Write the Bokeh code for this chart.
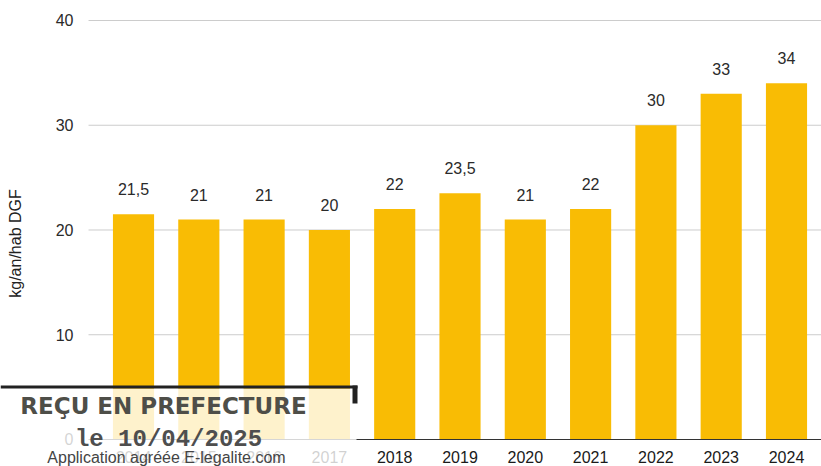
from bokeh.plotting import figure
from bokeh.models import ColumnDataSource, Range1d, FixedTicker, Label, BoxAnnotation, LinearAxis
from bokeh.core.properties import value
from bokeh.embed import file_html
from bokeh.resources import INLINE

years = ["2014", "2015", "2016", "2017", "2018", "2019", "2020", "2021", "2022", "2023", "2024"]
values = [21.5, 21, 21, 20, 22, 23.5, 21, 22, 30, 33, 34]
value_labels = ["21,5", "21", "21", "20", "22", "23,5", "21", "22", "30", "33", "34"]
y_ticks = [0, 10, 20, 30, 40]

idx = list(range(len(years)))
src = ColumnDataSource(dict(x=idx, top=values, lbl=value_labels))

# plotting area (in data units) and the outer canvas range
X0, X1 = -0.689, 10.536
Y0, Y1 = 0, 40

FONT = "Liberation Sans"
p = figure(width=821, height=466, output_backend="svg", toolbar_location=None,
           x_range=Range1d(-2.037, X1), y_range=Range1d(-2.578, 41.909),
           x_axis_location=None, y_axis_location=None,
           min_border_left=0, min_border_right=0, min_border_top=0, min_border_bottom=0)
p.outline_line_color = None
p.background_fill_color = "white"
for g in p.grid:
    g.grid_line_color = None

# horizontal gridlines across the plotting area
p.segment(x0=[X0] * len(y_ticks), x1=[X1] * len(y_ticks), y0=y_ticks, y1=y_ticks,
          line_color="#cccccc", line_width=1, level="underlay")

p.vbar(x="x", top="top", bottom=0, width=0.63, source=src, fill_color="#F9BC04", line_color=None)
p.text(x="x", y="top", text="lbl", source=src, text_align="center", text_baseline="bottom",
       y_offset=-19, text_font_size="16px", text_color="#2a2a2a", text_font=value(FONT))

xa = LinearAxis(fixed_location=0, bounds=(X0, X1))
xa.ticker = FixedTicker(ticks=idx)
xa.major_label_overrides = {i: y for i, y in zip(idx, years)}
xa.major_tick_line_color = None
xa.minor_tick_line_color = None
xa.axis_line_color = "#333333"
xa.axis_line_width = 1
xa.major_label_standoff = 6
xa.major_label_text_font = FONT
xa.major_label_text_font_size = "16px"
xa.major_label_text_color = "#1a1a1a"
p.add_layout(xa, "below")

ya = LinearAxis(fixed_location=X0, bounds=(-3, Y1))
ya.ticker = FixedTicker(ticks=y_ticks)
ya.axis_line_color = None
ya.major_tick_line_color = None
ya.minor_tick_line_color = None
ya.major_label_standoff = 9
ya.major_label_text_font = FONT
ya.major_label_text_font_size = "16px"
ya.major_label_text_color = "#2a2a2a"
ya.axis_label = "kg/an/hab DGF"
ya.axis_label_text_font = FONT
ya.axis_label_text_font_size = "16px"
ya.axis_label_text_font_style = "normal"
ya.axis_label_text_color = "#222222"
ya.axis_label_standoff = 29
p.add_layout(ya, "left")

# "REÇU EN PREFECTURE" stamp overlay (screen units, origin at canvas bottom-left)
def sbox(l, r, b, t, color, alpha):
    return BoxAnnotation(left=l, right=r, bottom=b, top=t,
                         left_units="screen", right_units="screen", top_units="screen", bottom_units="screen",
                         fill_color=color, fill_alpha=alpha, line_color=None, level="overlay")

p.add_layout(sbox(0, 356, 0, 78, "white", 0.8))
p.add_layout(sbox(0, 357, 78, 81, "#222222", 1))
p.add_layout(sbox(352, 357, 63, 81, "#222222", 1))
p.add_layout(Label(x=163, y=61, x_units="screen", y_units="screen", text="REÇU EN PREFECTURE",
                   text_align="center", text_baseline="middle", text_font="DejaVu Sans",
                   text_font_size="23px", text_font_style="bold", text_color="#4e4e48", level="overlay"))
p.add_layout(Label(x=168, y=27, x_units="screen", y_units="screen", text="le 10/04/2025",
                   text_align="center", text_baseline="middle", text_font="Liberation Mono",
                   text_font_size="24px", text_font_style="bold", text_color="#4e4e4e", level="overlay"))
p.add_layout(Label(x=166, y=1, x_units="screen", y_units="screen", text="Application agréée E-legalite.com",
                   text_align="center", text_baseline="bottom", text_font=FONT,
                   text_font_size="16px", text_color="#444444", level="overlay"))

open("out.html", "w").write(file_html(p, INLINE))
